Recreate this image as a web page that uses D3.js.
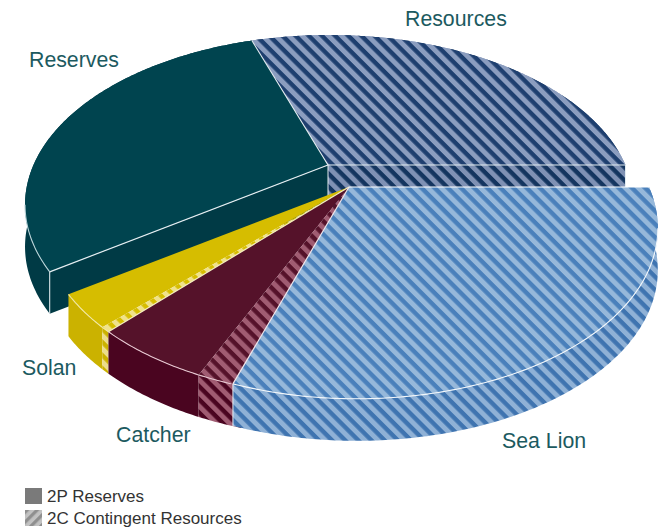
<!DOCTYPE html>
<html>
<head>
<meta charset="utf-8">
<script src="https://cdn.jsdelivr.net/npm/d3@7"></script>
<style>
  html, body { margin: 0; padding: 0; background: #fff; }
  svg { display: block; }
  text { font-family: "Liberation Sans", Arial, sans-serif; }
</style>
</head>
<body>
<svg id="chart" width="659" height="528"></svg>
<script>
// Share of the resource base, clockwise from the Sea Lion / Resources edge.
const sliceNames = ["Sea Lion", "Catcher", "Catcher", "Solan", "Solan", "Reserves", "Resources"];
const sliceClass = ["2C", "2C", "2P", "2C", "2P", "2P", "2C"];
const sliceShare = [30.0, 1.5, 5.15, 0.45, 3.1, 29.7, 30.1];

const labelNames = ["Resources", "Reserves", "Solan", "Catcher", "Sea Lion"];
const labelX = [405, 29, 22, 116, 502];
const labelY = [25.5, 66.5, 375, 441.5, 448];

const legendNames = ["2P Reserves", "2C Contingent Resources"];

const palette = {
  "Reserves":  { top: "#00444f", wall: "#003a45", light: "#00444f", lightWall: "#003a45" },
  "Resources": { top: "#1e3f6f", wall: "#14355f", light: "#8b9dbf", lightWall: "#7f91b4" },
  "Sea Lion":  { top: "#4a80bb", wall: "#3f74b0", light: "#96b8da", lightWall: "#8fb1d6" },
  "Catcher":   { top: "#55122a", wall: "#4a0520", light: "#a05c72", lightWall: "#a05c72" },
  "Solan":     { top: "#d6bd00", wall: "#cbb200", light: "#f0e28a", lightWall: "#ecdd8a" }
};

const svg = d3.select("#chart");
const defs = svg.append("defs");

// Plan coordinates on the unit circle go through a perspective divide, so the
// near rim comes out larger than the far rim. Each piece of the exploded pie
// has its own apex and sits at a slightly different place in the view.
const tilt = 0.235;
const depth = 42;

const viewBack  = { apex: [328, 165], x: d3.scaleLinear().domain([-1, 1]).range([-296, 296]), y: d3.scaleLinear().domain([-1, 1]).range([-160.6, 160.6]), side: 0.005 };
const viewMid   = { apex: [349, 187], x: d3.scaleLinear().domain([-1, 1]).range([-297, 297]), y: d3.scaleLinear().domain([-1, 1]).range([-160.6, 160.6]), side: 0 };
const viewFront = { apex: [349, 187], x: d3.scaleLinear().domain([-1, 1]).range([-294, 294]), y: d3.scaleLinear().domain([-1, 1]).range([-162, 162]), side: 0.02 };

function rimPoint(view, angle, drop = 0) {
  const u = Math.sin(angle), v = -Math.cos(angle), w = 1 - tilt * v - view.side * u;
  return [view.apex[0] + view.x(u / w), view.apex[1] + view.y(v / w) + drop];
}

function rimArc(view, a0, a1, drop = 0) {
  const n = Math.max(2, Math.ceil(Math.abs(a1 - a0) / 0.01));
  return d3.range(n + 1).map(i => rimPoint(view, a0 + (a1 - a0) * i / n, drop));
}

const line = d3.line();
const closed = pts => line(pts) + "Z";

function stripes(id, dark, light, period = 9.3, turn = 45) {
  const p = defs.append("pattern")
    .attr("id", id)
    .attr("patternUnits", "userSpaceOnUse")
    .attr("width", period).attr("height", period)
    .attr("patternTransform", `rotate(${turn})`);
  p.append("rect").attr("width", period).attr("height", period).attr("fill", light);
  p.append("rect").attr("width", period).attr("height", period * 0.47).attr("fill", dark);
}

// One stripe pattern for the top face and one for the side wall of each hatched slice.
const seen = new Set();
sliceNames.forEach((name, i) => {
  if (sliceClass[i] !== "2C" || seen.has(name)) return;
  seen.add(name);
  const c = palette[name];
  stripes("top-" + name.replace(" ", ""), c.top, c.light);
  stripes("wall-" + name.replace(" ", ""), c.wall, c.lightWall);
});

const pie = d3.pie().sort(null)
  .startAngle(Math.PI / 2)
  .endAngle(Math.PI / 2 + 2 * Math.PI);

const viewOf = name =>
  (name === "Reserves" || name === "Resources") ? viewBack :
  name === "Sea Lion" ? viewFront : viewMid;

const slices = pie(sliceShare).map((d, i) => ({
  name: sliceNames[i],
  kind: sliceClass[i],
  a0: d.startAngle,
  a1: d.endAngle,
  view: viewOf(sliceNames[i])
}));

const fillOf = (s, part) => {
  if (s.kind === "2P") return palette[s.name][part];
  return "url(#" + part + "-" + s.name.replace(" ", "") + ")";
};

// Silhouette extremes of the disc: the front rim is only visible between them.
const rimStart = Math.PI / 2 + Math.asin(tilt);
const rimEnd = Math.PI * 3 / 2 - Math.asin(tilt);

const edge = "#e4edf1";

function drawSlice(g, s, bleed = 0) {
  // Outer wall; a small bleed runs the slice under its neighbour so no seam opens.
  const outer = rimArc(s.view, s.a0 - bleed, s.a1);
  const lower = rimArc(s.view, s.a1, s.a0 - bleed, depth);
  g.append("path").attr("d", closed(outer.concat(lower)))
    .attr("fill", fillOf(s, "wall"));
  // Top face
  g.append("path").attr("d", closed([s.view.apex].concat(outer)))
    .attr("fill", fillOf(s, "top"));
}

function drawCutFace(g, s, angle) {
  const apex = s.view.apex;
  const rim = rimPoint(s.view, angle);
  const pts = [apex, rim, [rim[0], rim[1] + depth], [apex[0], apex[1] + depth]];
  g.append("path").attr("d", closed(pts)).attr("fill", fillOf(s, "wall"));
  g.append("path").attr("d", line([apex, rim])).attr("fill", "none")
    .attr("stroke", edge).attr("stroke-width", 1.2);
  g.append("path").attr("d", line([rim, [rim[0], rim[1] + depth]])).attr("fill", "none")
    .attr("stroke", edge).attr("stroke-width", 1);
}

function drawRimLine(g, s, color) {
  const a0 = Math.max(s.a0, rimStart), a1 = Math.min(s.a1, rimEnd);
  if (a1 <= a0) return;
  g.append("path").attr("d", line(rimArc(s.view, a0, a1)))
    .attr("fill", "none").attr("stroke", color).attr("stroke-width", 1.1);
}

const find = (name, kind) => slices.find(s => s.name === name && s.kind === kind);
const seaLion = find("Sea Lion", "2C");
const catcher2C = find("Catcher", "2C");
const catcher2P = find("Catcher", "2P");
const solan2C = find("Solan", "2C");
const solan2P = find("Solan", "2P");
const reserves = find("Reserves", "2P");
const resources = find("Resources", "2C");

const pieGroup = svg.append("g");

// Back half of the pie first, so the pulled-out slices sit over its cut faces.
drawSlice(pieGroup, resources);
drawSlice(pieGroup, reserves);
drawCutFace(pieGroup, resources, resources.a1);
drawCutFace(pieGroup, reserves, reserves.a0);
pieGroup.append("path")
  .attr("d", line([viewBack.apex, rimPoint(viewBack, reserves.a1)]))
  .attr("fill", "none").attr("stroke", edge).attr("stroke-width", 1.1);
pieGroup.append("path")
  .attr("d", line([viewBack.apex, [viewBack.apex[0], viewBack.apex[1] + depth]]))
  .attr("fill", "none").attr("stroke", edge).attr("stroke-width", 1);
drawRimLine(pieGroup, reserves, "#b9d3d8");

drawSlice(pieGroup, solan2P);
drawSlice(pieGroup, solan2C);
drawSlice(pieGroup, catcher2P);
drawSlice(pieGroup, catcher2C, 0.03);
drawSlice(pieGroup, seaLion);

[solan2P, solan2C].forEach(s => drawRimLine(pieGroup, s, "#f2e9a6"));
[catcher2P, catcher2C].forEach(s => drawRimLine(pieGroup, s, "#e6c6d0"));
drawRimLine(pieGroup, seaLion, "#f2f7fb");

// Edges along the pulled-out slices
[
  [viewMid, catcher2P.a1, "#f4eebe"],
  [viewFront, seaLion.a1, "#f0e6ea"],
  [viewFront, seaLion.a0, "#ffffff"]
].forEach(([view, angle, color]) => {
  pieGroup.append("path")
    .attr("d", line([view.apex, rimPoint(view, angle)]))
    .attr("fill", "none").attr("stroke", color).attr("stroke-width", 1.2);
});
const corner = rimPoint(viewFront, seaLion.a1);
pieGroup.append("path")
  .attr("d", line([corner, [corner[0], corner[1] + depth]]))
  .attr("fill", "none").attr("stroke", "#e9eef4").attr("stroke-width", 1);

// Field names
svg.append("g").selectAll("text").data(labelNames).join("text")
  .attr("x", (d, i) => labelX[i])
  .attr("y", (d, i) => labelY[i])
  .attr("font-size", 21.3)
  .attr("fill", "#1c5a60")
  .text(d => d);

// Legend
stripes("legend-hatch", "#8f8f8f", "#c2c2c2", 7, -45);
const legend = svg.append("g").selectAll("g").data(legendNames).join("g")
  .attr("transform", (d, i) => `translate(25,${488 + i * 22})`);
legend.append("rect")
  .attr("width", 17).attr("height", 16)
  .attr("fill", (d, i) => i === 0 ? "#7a7a7a" : "url(#legend-hatch)");
legend.append("text")
  .attr("x", 22).attr("y", 14)
  .attr("font-size", 17)
  .attr("fill", "#333333")
  .text(d => d);
</script>
</body>
</html>
